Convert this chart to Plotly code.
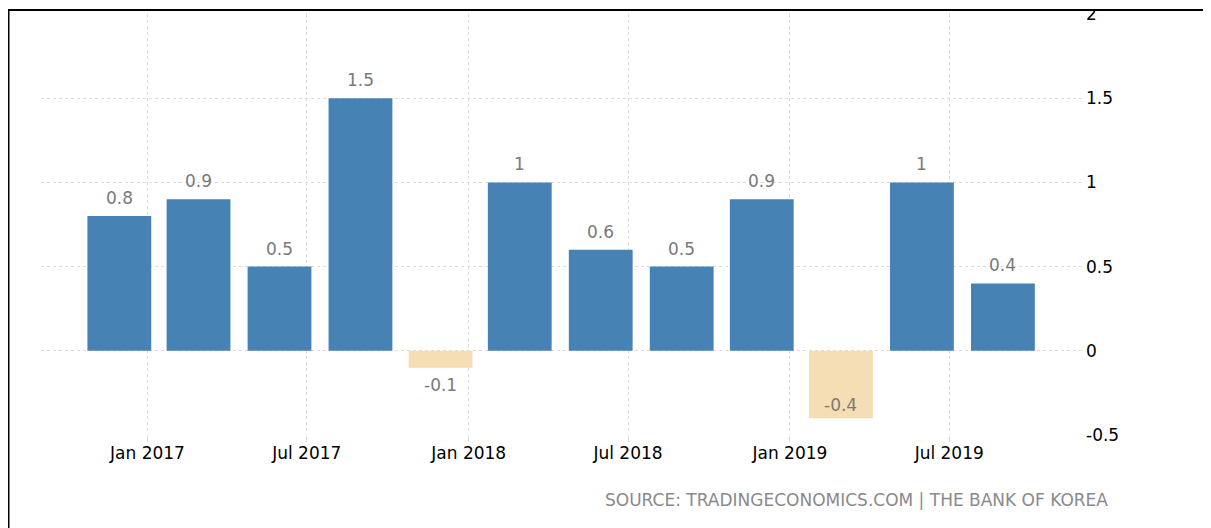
import plotly.graph_objects as go

# ---- data ----
quarters = ["2016-11-30", "2017-02-28", "2017-05-31", "2017-08-31",
            "2017-11-30", "2018-02-28", "2018-05-31", "2018-08-31",
            "2018-11-30", "2019-02-28", "2019-05-31", "2019-08-31"]
values = [0.8, 0.9, 0.5, 1.5, -0.1, 1.0, 0.6, 0.5, 0.9, -0.4, 1.0, 0.4]
labels = ["0.8", "0.9", "0.5", "1.5", "-0.1", "1", "0.6", "0.5", "0.9", "-0.4", "1", "0.4"]
tick_dates = ["2017-01-01", "2017-07-01", "2018-01-01", "2018-07-01", "2019-01-01", "2019-07-01"]
tick_text = ["Jan 2017", "Jul 2017", "Jan 2018", "Jul 2018", "Jan 2019", "Jul 2019"]
y_ticks = [-0.5, 0, 0.5, 1, 1.5, 2]
y_text = ["-0.5", "0", "0.5", "1", "1.5", "2"]
source_text = "SOURCE: TRADINGECONOMICS.COM | THE BANK OF KOREA"

POS = "#4682B4"
NEG = "#F5DEB3"
FONT = "DejaVu Sans"
YMIN, YMAX = -0.5, 2.0
DAY_MS = 86400000
PLOT_H = 421
PLOT_W = 1042

colors = [POS if v >= 0 else NEG for v in values]

fig = go.Figure()
fig.add_trace(go.Bar(
    x=quarters, y=values, marker=dict(color=colors, line=dict(width=0)),
    width=[72.5 * DAY_MS] * len(values), hoverinfo="x+y",
))

annotations = []
for d, v, t in zip(quarters, values, labels):
    if v >= 0:
        annotations.append(dict(x=d, y=v, text=t, showarrow=False, yanchor="bottom",
                                yshift=6, xref="x", yref="y"))
    elif v - 0.2 < YMIN:
        annotations.append(dict(x=d, y=v, text=t, showarrow=False, yanchor="bottom",
                                yshift=1, xref="x", yref="y"))
    else:
        annotations.append(dict(x=d, y=v, text=t, showarrow=False, yanchor="top",
                                yshift=-5, xref="x", yref="y"))
for a in annotations:
    a["font"] = dict(family=FONT, size=17, color="#7a7a7a")

annotations.append(dict(text=source_text, x=1.0263, y=-0.1544, xref="paper", yref="paper",
                        xanchor="right", yanchor="middle", showarrow=False,
                        font=dict(family=FONT, size=17, color="#8a8a8a")))

top_y = 1 + 4.0 / PLOT_H
left_x = -32.5 / PLOT_W

fig.update_layout(
    width=1211, height=528,
    margin=dict(l=33, r=136, t=6, b=101),
    paper_bgcolor="white", plot_bgcolor="white",
    showlegend=False,
    font=dict(family=FONT, size=17, color="#000000"),
    annotations=annotations,
    xaxis=dict(type="date", range=["2016-09-02", "2019-11-30"],
               tickvals=tick_dates, ticktext=tick_text,
               showgrid=True, gridcolor="#dddddd", griddash="dot", gridwidth=1,
               ticks="outside", ticklen=6, tickcolor="#dddddd",
               ticklabelstandoff=-3,
               showline=False, zeroline=False, automargin=False,
               tickfont=dict(family=FONT, size=17, color="#000000")),
    yaxis=dict(range=[YMIN, YMAX], side="right", tickvals=y_ticks, ticktext=y_text,
               showgrid=True, gridcolor="#dddddd", griddash="dot", gridwidth=1,
               zeroline=False, showline=False, ticks="", automargin=False,
               ticklabelstandoff=2, ticklabeloverflow="allow",
               tickfont=dict(family=FONT, size=17, color="#000000")),
    shapes=[
        dict(type="rect", xref="paper", yref="paper", x0=-0.1, x1=1.2,
             y0=top_y, y1=1.2, fillcolor="white", line=dict(width=0), layer="above"),
        dict(type="line", xref="paper", yref="paper", x0=-0.04, x1=1.2,
             y0=top_y, y1=top_y, line=dict(color="black", width=2), layer="above"),
        dict(type="line", xref="paper", yref="paper", x0=left_x, x1=left_x,
             y0=top_y, y1=-0.3, line=dict(color="black", width=2), layer="above"),
    ],
)

fig.write_html("out.html")
